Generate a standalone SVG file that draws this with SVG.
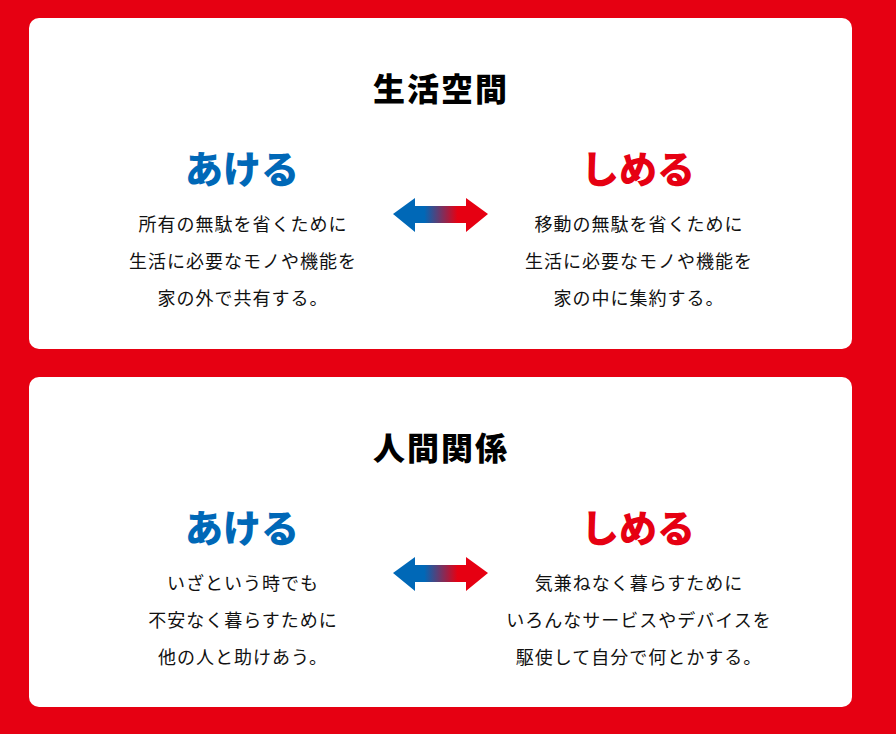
<svg xmlns="http://www.w3.org/2000/svg" width="896" height="734" viewBox="0 0 896 734">
<defs>
<linearGradient id="g" x1="393" y1="0" x2="488" y2="0" gradientUnits="userSpaceOnUse">
<stop offset="0.33" stop-color="#0068B7"/>
<stop offset="0.68" stop-color="#E60012"/>
</linearGradient>
<style>
.card{fill:#fff}
.title{font-family:"Noto Sans CJK JP",sans-serif;font-weight:900;font-size:32px;fill:#000;text-anchor:middle;letter-spacing:2px}
.open{font-family:"Noto Sans CJK JP",sans-serif;font-weight:900;font-size:38px;fill:#0068B7;text-anchor:middle}
.close{font-family:"Noto Sans CJK JP",sans-serif;font-weight:900;font-size:38px;fill:#E60012;text-anchor:middle}
.body{font-family:"Noto Sans CJK JP",sans-serif;font-size:18px;fill:#111;text-anchor:middle;letter-spacing:1px}
</style>
<path id="arrow" d="M393 0 L415 -16 L415 -8 L466 -8 L466 -16 L488 0 L466 18 L466 9 L415 9 L415 18 Z"/>
</defs>
<rect width="896" height="734" fill="#E60012"/>
<g id="card1">
<rect class="card" x="29" y="18" width="823" height="331" rx="10"/>
<text class="title" x="441" y="101">生活空間</text>
<text class="open" x="242" y="183">あける</text>
<text class="close" x="638" y="183">しめる</text>
<text class="body" x="243" y="231">所有の無駄を省くために</text>
<text class="body" x="243" y="268">生活に必要なモノや機能を</text>
<text class="body" x="243" y="305">家の外で共有する。</text>
<text class="body" x="639" y="231">移動の無駄を省くために</text>
<text class="body" x="639" y="268">生活に必要なモノや機能を</text>
<text class="body" x="639" y="305">家の中に集約する。</text>
</g>
<g id="card2">
<rect class="card" x="29" y="377" width="823" height="330" rx="10"/>
<text class="title" x="441" y="460">人間関係</text>
<text class="open" x="242" y="542">あける</text>
<text class="close" x="638" y="542">しめる</text>
<text class="body" x="243" y="590">いざという時でも</text>
<text class="body" x="243" y="627">不安なく暮らすために</text>
<text class="body" x="243" y="664">他の人と助けあう。</text>
<text class="body" x="639" y="590">気兼ねなく暮らすために</text>
<text class="body" x="639" y="627">いろんなサービスやデバイスを</text>
<text class="body" x="639" y="664">駆使して自分で何とかする。</text>
</g>
<g id="connectors">
<use href="#arrow" transform="translate(0,214)" fill="url(#g)"/>
<use href="#arrow" transform="translate(0,573)" fill="url(#g)"/>
</g>
</svg>
